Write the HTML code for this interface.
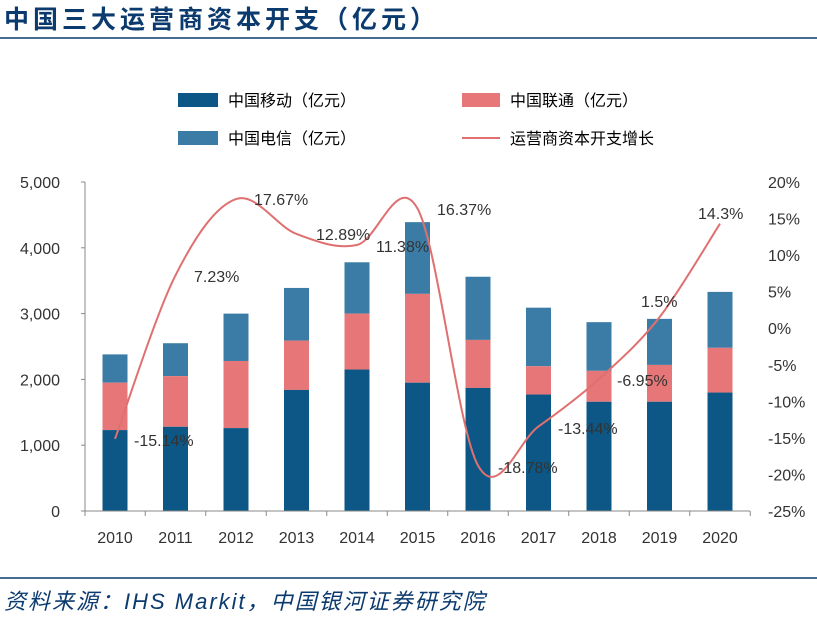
<!DOCTYPE html>
<html><head><meta charset="utf-8"><style>
body{margin:0;background:#fff;width:817px;height:630px;overflow:hidden}
svg text{font-family:"Liberation Sans","Noto Sans CJK SC",sans-serif}
</style></head><body>
<svg id="s" width="817" height="630" xmlns="http://www.w3.org/2000/svg">
<text x="4" y="28" font-size="25" font-weight="bold" fill="#0b3a6e" letter-spacing="4" font-family="'Noto Serif CJK SC','Noto Sans CJK SC',serif">中国三大运营商资本开支（亿元）</text>
<line x1="0" y1="38" x2="817" y2="38" stroke="#0b3a6e" stroke-width="1.5"/>
<rect x="178" y="93" width="40" height="14" fill="#0c5785"/>
<text x="228" y="106" font-size="16" fill="#000">中国移动（亿元）</text>
<rect x="462" y="93" width="38" height="14" fill="#e67677"/>
<text x="510" y="106" font-size="16" fill="#000">中国联通（亿元）</text>
<rect x="178" y="131" width="40" height="14" fill="#3b7ca6"/>
<text x="228" y="144" font-size="16" fill="#000">中国电信（亿元）</text>
<line x1="462" y1="138" x2="500" y2="138" stroke="#e07070" stroke-width="2"/>
<text x="510" y="144" font-size="16" fill="#000">运营商资本开支增长</text>
<g id="g"></g>
<line x1="85" y1="182" x2="85" y2="511" stroke="#888"/>
<line x1="85" y1="511" x2="750" y2="511" stroke="#888"/>
<line x1="0" y1="578" x2="817" y2="578" stroke="#0b3a6e" stroke-width="1.5"/>
<text x="4" y="609" font-size="22" font-style="italic" fill="#0b3a6e" letter-spacing="2" font-family="'Liberation Mono','Noto Sans CJK SC',monospace">资料来源：IHS Markit，中国银河证券研究院</text>
</svg>
<script>
var g=document.getElementById('g'),h='';
function Y(v){return 511-v*0.0658}function R(p){return 182+(20-p)*7.311}
var m=[1230,1280,1260,1840,2150,1950,1870,1770,1660,1660,1800],
u=[1950,2050,2280,2590,3000,3300,2600,2200,2130,2220,2480],
t=[2380,2550,3000,3390,3780,4390,3560,3090,2870,2920,3330];
var L=['5,000','4,000','3,000','2,000','1,000','0'];
for(var i=0;i<6;i++){var y=182+i*65.8;h+='<text x="60" y="'+(y+6)+'" font-size="16" text-anchor="end" fill="#333">'+L[i]+'</text><line x1="81" y1="'+y+'" x2="85" y2="'+y+'" stroke="#888"/>';}
for(var i=0;i<10;i++){var p=20-i*5,y=R(p);h+='<text x="768" y="'+(y+6)+'" font-size="16" fill="#333">'+p+'%</text>';}
var X=[];
for(var i=0;i<11;i++){var x=115+i*60.5;X.push(x);
h+='<rect x="'+(x-12.5)+'" y="'+Y(t[i])+'" width="25" height="'+(Y(u[i])-Y(t[i]))+'" fill="#3b7ca6"/>';
h+='<rect x="'+(x-12.5)+'" y="'+Y(u[i])+'" width="25" height="'+(Y(m[i])-Y(u[i]))+'" fill="#e67677"/>';
h+='<rect x="'+(x-12.5)+'" y="'+Y(m[i])+'" width="25" height="'+(511-Y(m[i]))+'" fill="#0c5785"/>';
h+='<text x="'+x+'" y="543" font-size="16" text-anchor="middle" fill="#333">'+(2010+i)+'</text>';
h+='<line x1="'+(x+30.25)+'" y1="511" x2="'+(x+30.25)+'" y2="516" stroke="#888"/>';}
h+='<line x1="85" y1="511" x2="85" y2="516" stroke="#888"/>';
var P=[-15.14,7.23,17.67,12.89,11.38,16.37,-18.78,-13.44,-6.95,1.5,14.3],pts=P.map(function(p,i){return[X[i],R(p)]});
var d='M'+pts[0][0]+','+pts[0][1];
for(var i=0;i<10;i++){var p0=pts[Math.max(i-1,0)],p1=pts[i],p2=pts[i+1],p3=pts[Math.min(i+2,10)];
d+=' C'+(p1[0]+(p2[0]-p0[0])/6)+','+(p1[1]+(p2[1]-p0[1])/6)+' '+(p2[0]-(p3[0]-p1[0])/6)+','+(p2[1]-(p3[1]-p1[1])/6)+' '+p2[0]+','+p2[1];}
h+='<path d="'+d+'" fill="none" stroke="#e07070" stroke-width="2"/>';
var lab=[['-15.14%',134,446],['7.23%',194,282],['17.67%',254,205],['12.89%',316,240],['11.38%',376,252],['16.37%',437,215],['-18.78%',498,473],['-13.44%',558,434],['-6.95%',617,386],['1.5%',641,307],['14.3%',698,219]];
lab.forEach(function(l){h+='<text x="'+l[1]+'" y="'+l[2]+'" font-size="16" fill="#333">'+l[0]+'</text>';});
g.innerHTML=h;
</script>
</body></html>
